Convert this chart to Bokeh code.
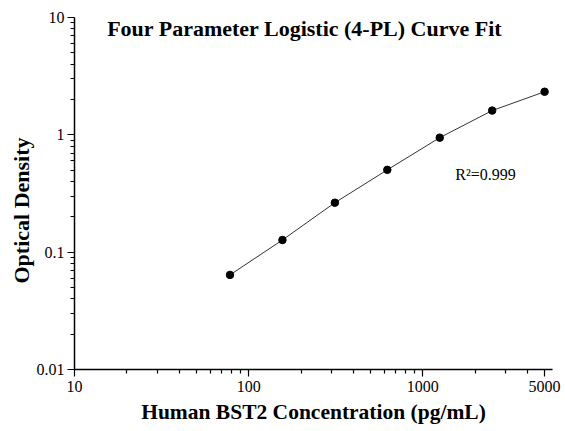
from bokeh.plotting import figure
from bokeh.models import FixedTicker, Label, Title, ColumnDataSource
from bokeh.embed import file_html
from bokeh.resources import INLINE

# Data
concentration = [78.125, 156.25, 312.5, 625, 1250, 2500, 5000]   # pg/mL
optical_density = [0.064, 0.127, 0.264, 0.503, 0.946, 1.61, 2.33]

x_major_ticks = [10, 100, 1000, 5000]
x_major_labels = ["10", "100", "1000", "5000"]
x_minor_ticks = [20, 30, 40, 50, 60, 70, 80, 90,
                 200, 300, 400, 500, 600, 700, 800, 900,
                 2000, 3000, 4000]
y_major_ticks = [0.01, 0.1, 1, 10]
y_major_labels = ["0.01", "0.1", "1", "10"]
y_minor_ticks = [m * d for d in (0.01, 0.1, 1) for m in range(2, 10)]

title_text = "Four Parameter Logistic (4-PL) Curve Fit"
x_label = "Human BST2 Concentration (pg/mL)"
y_label = "Optical Density"
r2_text = "R\u00b2=0.999"

SERIF = "Liberation Serif"

p = figure(width=565, height=431, x_axis_type="log", y_axis_type="log",
           x_range=(10, 5550), y_range=(0.01, 10),
           output_backend="svg", toolbar_location=None,
           min_border_left=74, min_border_top=17, min_border_right=13,
           min_border_bottom=62)
p.outline_line_color = None
p.xgrid.visible = False
p.ygrid.visible = False
p.background_fill_color = "white"
p.border_fill_color = "white"

src = ColumnDataSource(dict(x=concentration, y=optical_density))
p.line("x", "y", source=src, line_color="#333333", line_width=1)
p.scatter("x", "y", source=src, size=7.5, fill_color="black", line_color="black")

# axes
p.xaxis.ticker = FixedTicker(ticks=x_major_ticks, minor_ticks=x_minor_ticks)
p.xaxis.major_label_overrides = dict(zip(x_major_ticks, x_major_labels))
p.yaxis.ticker = FixedTicker(ticks=y_major_ticks, minor_ticks=y_minor_ticks)
p.yaxis.major_label_overrides = dict(zip(y_major_ticks, y_major_labels))

for ax in (p.xaxis, p.yaxis):
    ax.axis_line_color = "black"
    ax.axis_line_width = 1.5
    ax.major_tick_line_color = "black"
    ax.minor_tick_line_color = "black"
    ax.major_tick_line_width = 1.2
    ax.minor_tick_line_width = 1.2
    ax.major_tick_out = 7
    ax.major_tick_in = 0
    ax.minor_tick_out = 4
    ax.minor_tick_in = 0
    ax.major_label_text_font = SERIF
    ax.major_label_text_font_size = "16px"
    ax.major_label_text_color = "black"

p.xaxis.axis_label = x_label
p.xaxis.axis_label_text_font = SERIF
p.xaxis.axis_label_text_font_style = "bold"
p.xaxis.axis_label_text_font_size = "21.5px"
p.xaxis.axis_label_text_color = "black"
p.xaxis.major_label_standoff = 4
p.yaxis.major_label_standoff = 3
p.xaxis.axis_label_standoff = 5

# y-axis title placed in the left panel, lower than frame centre like the reference
ytitle = Title(text=y_label, align="left", offset=86, text_font=SERIF,
               text_font_style="bold", text_font_size="22px",
               text_color="black", standoff=0)
p.add_layout(ytitle, "left")

title = Label(x=210, y=7.98, text=title_text, text_font=SERIF,
              text_font_style="bold", text_font_size="22px",
              text_align="center", text_baseline="middle", text_color="black")
p.add_layout(title)

r2 = Label(x=1535, y=0.457, text=r2_text, text_font=SERIF,
           text_font_size="16px", text_align="left", text_baseline="middle",
           text_color="black")
p.add_layout(r2)

open("out.html", "w").write(file_html(p, INLINE))
